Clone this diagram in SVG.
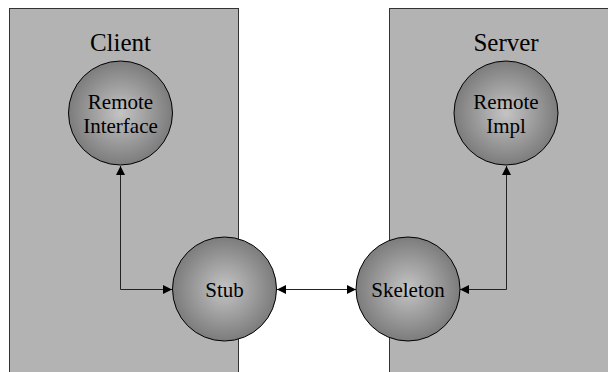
<svg xmlns="http://www.w3.org/2000/svg" width="608" height="372" viewBox="0 0 608 372">
  <defs>
    <radialGradient id="ball" cx="50%" cy="50%" r="50%">
      <stop offset="0" stop-color="#c4c4c4"/>
      <stop offset="1" stop-color="#7c7c7c"/>
    </radialGradient>
    <marker id="arrow" viewBox="0 0 10 10" refX="10" refY="5" markerWidth="9" markerHeight="9" markerUnits="userSpaceOnUse" orient="auto-start-reverse">
      <path d="M0,0 L10,5 L0,10 Z" fill="#000"/>
    </marker>
  </defs>
  <style>
    .panel { fill: #b3b3b3; stroke: #333; stroke-width: 1; }
    .node circle { fill: url(#ball); stroke: #000; stroke-width: 1; }
    .label { font-family: "Liberation Serif", "Times New Roman", serif; fill: #000; text-anchor: middle; }
    .title { font-size: 25px; }
    .nodetext { font-size: 21px; }
    .conn { fill: none; stroke: #222; stroke-width: 1; marker-start: url(#arrow); marker-end: url(#arrow); }
  </style>
  <rect width="608" height="372" fill="#fff"/>

  <g id="client-panel">
    <rect class="panel" x="9.5" y="8.5" width="229" height="380"/>
    <text class="label title" x="120.5" y="51">Client</text>
  </g>
  <g id="server-panel">
    <rect class="panel" x="389.5" y="8.5" width="240" height="380"/>
    <text class="label title" x="506" y="51">Server</text>
  </g>

  <g id="connectors">
    <path class="conn" d="M120.5,166 V289.5 H172"/>
    <path class="conn" d="M277,289.5 H356"/>
    <path class="conn" d="M460,289.5 H506.5 V166"/>
  </g>

  <g id="remote-interface" class="node">
    <circle cx="120.5" cy="113" r="52"/>
    <text class="label nodetext" x="120.5" y="109">Remote</text>
    <text class="label nodetext" x="120.5" y="133">Interface</text>
  </g>
  <g id="remote-impl" class="node">
    <circle cx="506" cy="113" r="52"/>
    <text class="label nodetext" x="506" y="109">Remote</text>
    <text class="label nodetext" x="506" y="133">Impl</text>
  </g>
  <g id="stub" class="node">
    <circle cx="224.5" cy="289" r="52"/>
    <text class="label nodetext" x="224.5" y="297">Stub</text>
  </g>
  <g id="skeleton" class="node">
    <circle cx="408" cy="289" r="52"/>
    <text class="label nodetext" x="408" y="297">Skeleton</text>
  </g>
</svg>
